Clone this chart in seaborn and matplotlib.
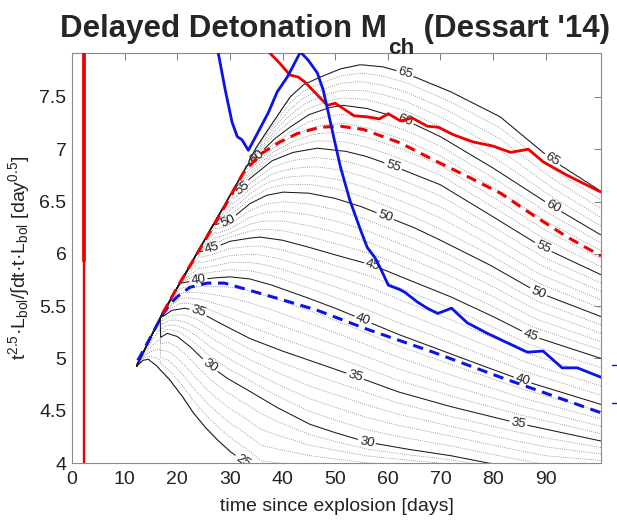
import numpy as np
import matplotlib
matplotlib.use("Agg")
import matplotlib.pyplot as plt
import seaborn as sns
from matplotlib.ticker import FuncFormatter, FixedLocator
from matplotlib.lines import Line2D

# ---------------- data ----------------
levels_solid = [25, 30, 35, 40, 45, 50, 55, 60, 65]

c25_x = [12.4, 13.5, 14.5, 16.0, 17.5, 18.6, 21.0, 23.0, 25.3, 27.6, 30.0, 32.9, 36.0]
c25_y = [4.93, 4.98, 4.99, 4.93, 4.85, 4.79, 4.63, 4.48, 4.34, 4.22, 4.11, 4.00, 3.87]
c30_x = [16.8, 18.1, 20.0, 22.5, 26.2, 29.5, 33.3, 39.0, 45.2, 50.0, 56.0, 64.0, 71.9, 79.0, 90.0]
c30_y = [5.20, 5.24, 5.21, 5.11, 4.93, 4.81, 4.70, 4.53, 4.37, 4.29, 4.20, 4.13, 4.07, 4.00, 3.90]
c35_x = [17.2, 19.0, 21.5, 24.0, 28.0, 33.8, 40.0, 45.2, 53.8, 62.0, 71.9, 84.8, 100.5]
c35_y = [5.40, 5.46, 5.48, 5.45, 5.34, 5.19, 5.07, 4.98, 4.83, 4.68, 4.54, 4.38, 4.21]
c40_x = [20.6, 24.0, 27.0, 30.0, 33.8, 38.0, 44.7, 50.0, 55.3, 62.0, 70.0, 78.0, 85.6, 100.5]
c40_y = [5.72, 5.75, 5.77, 5.78, 5.76, 5.70, 5.58, 5.48, 5.37, 5.23, 5.08, 4.93, 4.79, 4.56]
c45_x = [24.3, 26.6, 30.0, 33.8, 35.7, 40.0, 45.2, 50.0, 57.2, 64.0, 71.9, 80.0, 87.1, 100.5]
c45_y = [6.02, 6.05, 6.12, 6.15, 6.16, 6.13, 6.06, 5.99, 5.89, 5.75, 5.59, 5.40, 5.22, 5.00]
c50_x = [27.2, 29.7, 33.8, 37.0, 40.1, 45.0, 50.0, 55.0, 59.5, 65.0, 70.0, 79.5, 88.6, 100.5]
c50_y = [6.28, 6.31, 6.48, 6.56, 6.59, 6.58, 6.53, 6.45, 6.36, 6.25, 6.13, 5.89, 5.63, 5.40]
c55_x = [30.5, 32.3, 33.8, 38.0, 42.0, 46.6, 52.0, 56.0, 61.0, 65.0, 70.0, 79.8, 89.5, 100.5]
c55_y = [6.57, 6.63, 6.72, 6.89, 6.97, 7.01, 6.98, 6.93, 6.84, 6.76, 6.66, 6.36, 6.06, 5.80]
c60_x = [33.0, 35.2, 36.3, 38.5, 41.4, 45.0, 49.0, 51.5, 56.0, 63.3, 70.0, 80.0, 91.4, 100.5]
c60_y = [6.83, 6.93, 6.99, 7.10, 7.21, 7.33, 7.40, 7.42, 7.39, 7.28, 7.12, 6.82, 6.45, 6.18]
c65_x = [33.6, 35.0, 37.1, 41.4, 44.0, 47.1, 51.0, 54.8, 59.0, 63.3, 72.0, 81.4, 91.2, 100.5]
c65_y = [6.89, 7.02, 7.18, 7.50, 7.62, 7.69, 7.77, 7.81, 7.79, 7.73, 7.55, 7.31, 6.90, 6.60]

# left boundary of the model grid (where the curves start)
bound_x = [12.2, 17.2, 34.0]
bound_y = [4.92, 5.43, 6.91]

# observed / model tracks
red_early_x = [2.2, 2.2]
red_early_y = [3.9, 5.93]
red_early2_x = [2.2, 2.2]
red_early2_y = [5.93, 8.0]

red_solid_x = [37.0, 39.5, 41.4, 43.0, 44.3, 46.2, 48.5, 50.0, 53.6, 56.1, 58.4, 60.1, 62.4,
               64.6, 67.5, 69.6, 72.4, 76.2, 80.0, 83.3, 86.7, 89.5, 94.1, 100.5]
red_solid_y = [7.95, 7.82, 7.71, 7.69, 7.64, 7.54, 7.42, 7.44, 7.32, 7.31, 7.29, 7.34, 7.27,
               7.30, 7.22, 7.21, 7.14, 7.07, 7.03, 6.97, 7.00, 6.88, 6.75, 6.59]

blue_solid_x = [27.6, 29.1, 30.4, 31.4, 32.3, 33.5, 35.2, 37.3, 39.0, 40.9, 43.4, 44.9, 46.6,
                47.7, 48.7, 49.7, 51.0, 52.8, 54.8, 56.1, 57.6, 58.9, 60.1, 62.2, 63.3, 65.6,
                67.5, 69.5, 72.1, 75.1, 78.9, 82.7, 86.5, 89.5, 93.1, 96.0, 100.5]
blue_solid_y = [7.97, 7.57, 7.26, 7.12, 7.09, 6.99, 7.15, 7.35, 7.55, 7.69, 7.93, 7.85, 7.73,
                7.57, 7.35, 7.12, 6.83, 6.51, 6.23, 6.06, 5.96, 5.83, 5.70, 5.66, 5.63, 5.54,
                5.48, 5.43, 5.48, 5.34, 5.24, 5.15, 5.06, 5.07, 4.91, 4.91, 4.82]

blue_dash_x = [12.5, 15.0, 17.2, 18.6, 20.0, 22.4, 25.7, 29.0, 33.8, 40.0, 46.6, 56.0, 68.6, 81.4, 100.5]
blue_dash_y = [4.98, 5.21, 5.42, 5.52, 5.59, 5.68, 5.72, 5.72, 5.65, 5.56, 5.46, 5.28, 5.06, 4.82, 4.48]

red_dash_x = [17.2, 20.0, 23.4, 28.1, 32.5, 35.7, 39.5, 42.8, 47.1, 51.0, 55.3, 62.4, 68.6,
              75.1, 81.4, 87.6, 94.1, 100.5]
red_dash_y = [5.43, 5.68, 5.97, 6.37, 6.77, 6.95, 7.07, 7.15, 7.21, 7.22, 7.19, 7.06, 6.90,
              6.74, 6.58, 6.37, 6.16, 5.98]

x_ticks = [0, 10, 20, 30, 40, 50, 60, 70, 80, 90]
y_ticks = [4, 4.5, 5, 5.5, 6, 6.5, 7, 7.5]

# ---------------- style ----------------
sns.set_theme(style="white")
plt.rcParams["font.family"] = ["Liberation Sans", "DejaVu Sans"]
plt.rcParams["mathtext.fontset"] = "custom"
plt.rcParams["mathtext.rm"] = "Liberation Sans"
plt.rcParams["mathtext.it"] = "Liberation Sans:italic"
plt.rcParams["mathtext.bf"] = "Liberation Sans:bold"

W, H = 617, 521
fig = plt.figure(figsize=(W / 100, H / 100), dpi=100)
ax = fig.add_axes([72 / W, 1 - 463 / H, (601 - 72) / W, (463 - 52.5) / H])

# ---------------- contour field built from the solid curves ----------------
curves = {25: (c25_x, c25_y), 30: (c30_x, c30_y), 35: (c35_x, c35_y),
          40: (c40_x, c40_y), 45: (c45_x, c45_y), 50: (c50_x, c50_y),
          55: (c55_x, c55_y), 60: (c60_x, c60_y), 65: (c65_x, c65_y)}
xg = np.linspace(12.25, 100.5, 900)
yg = np.linspace(3.85, 7.95, 1200)
Z = np.empty((yg.size, xg.size))
for j, xv in enumerate(xg):
    bnd = np.interp(xv, bound_x, bound_y)
    ys = []
    prev = -np.inf
    for lv in levels_solid:
        cx, cy = curves[lv]
        if xv >= cx[0]:
            yv = np.interp(xv, cx, cy)
        else:
            yv = max(bnd, prev)
        yv = max(yv, prev + 1e-4)
        ys.append(yv)
        prev = yv
    Z[:, j] = np.interp(yg, ys, levels_solid, left=20, right=70)
X, Y = np.meshgrid(xg, yg)

dotted_levels = [l for l in range(26, 65) if l % 5 != 0]
ax.contour(X, Y, Z, levels=dotted_levels, colors="#6e6e6e", linewidths=0.55,
           linestyles=[(0, (1, 1.8))], zorder=1)
CS = ax.contour(X, Y, Z, levels=levels_solid, colors="#1a1a1a", linewidths=0.75,
                linestyles="solid", zorder=2)
label_pos = [(32.6, 4.03), (26.2, 4.93), (56.0, 4.20), (24.0, 5.45), (53.8, 4.83), (84.8, 4.38),
             (24.0, 5.75), (55.3, 5.37), (85.6, 4.79), (26.6, 6.05), (57.2, 5.89), (87.1, 5.22),
             (29.7, 6.31), (59.5, 6.36), (88.6, 5.63), (32.3, 6.63), (61.0, 6.84), (89.5, 6.06),
             (35.2, 6.93), (63.3, 7.28), (91.4, 6.45), (63.3, 7.73), (91.2, 6.90)]
ax.clabel(CS, levels_solid, manual=label_pos, inline=True, inline_spacing=3,
          fmt="%d", fontsize=9.5, colors="#222222")

# ---------------- tracks ----------------
red = "#ee0000"
blue = "#0a14e6"
sns.lineplot(x=red_early_x, y=red_early_y, color=red, lw=1.7, sort=False, estimator=None, ax=ax, zorder=5)
sns.lineplot(x=red_early2_x, y=red_early2_y, color=red, lw=2.7, sort=False, estimator=None, ax=ax, zorder=5)
sns.lineplot(x=blue_dash_x, y=blue_dash_y, color=blue, lw=2.2, sort=False, estimator=None,
             linestyle=(0, (3.4, 2.2)), ax=ax, zorder=5)
sns.lineplot(x=red_dash_x, y=red_dash_y, color=red, lw=2.2, sort=False, estimator=None,
             linestyle=(0, (3.4, 2.2)), ax=ax, zorder=6)
sns.lineplot(x=red_solid_x, y=red_solid_y, color=red, lw=2.0, sort=False, estimator=None, ax=ax, zorder=6)
sns.lineplot(x=blue_solid_x, y=blue_solid_y, color=blue, lw=2.0, sort=False, estimator=None, ax=ax, zorder=7)

# ---------------- axes ----------------
ax.set_xlim(0, 100.5)
ax.set_ylim(4, 7.925)
ax.xaxis.set_major_locator(FixedLocator(x_ticks))
ax.yaxis.set_major_locator(FixedLocator(y_ticks))
ax.yaxis.set_major_formatter(FuncFormatter(lambda v, p: f"{v:g}"))
ax.tick_params(direction="in", length=5, width=0.6, color="#666666", top=True, right=True,
               labelsize=14, labelcolor="#222222", pad=4)
ax.tick_params(axis="x", pad=6)
for s in ax.spines.values():
    s.set_color("#8a8a8a")
    s.set_linewidth(0.8)
ax.set_xlabel("time since explosion [days]", fontsize=14, color="#222222", labelpad=7)
ax.set_ylabel(r"t$^{2.5}$·L$_{\rm bol}$/∫dt·t·L$_{\rm bol}$ [day$^{0.5}$]", fontsize=14,
              color="#222222", labelpad=5)

# small clipped marks at the right edge of the figure
for yy in (365, 403):
    fig.add_artist(Line2D([612 / W, 1.0], [1 - yy / H, 1 - yy / H], color=blue, lw=1.0))

# ---------------- title (MATLAB-like subscript) ----------------
fs = 22.5
yb = 1 - 37 / H
t1 = fig.text(0, yb, "Delayed Detonation M", fontsize=fs, fontweight="bold", va="baseline", ha="left")
t2 = fig.text(0, yb - 17 / H, "ch", fontsize=fs * 0.72, fontweight="bold", va="baseline", ha="left")
t3 = fig.text(0, yb, " (Dessart '14)", fontsize=fs, fontweight="bold", va="baseline", ha="left")
r = fig.canvas.get_renderer()
w1 = t1.get_window_extent(r).width
w2 = t2.get_window_extent(r).width
w3 = t3.get_window_extent(r).width
total = w1 + w2 + w3 + 2
x0 = 335 - total / 2
t1.set_x(x0 / W)
t2.set_x((x0 + w1 + 1) / W)
t3.set_x((x0 + w1 + w2 + 2) / W)

fig.savefig("out.png", dpi=100)
